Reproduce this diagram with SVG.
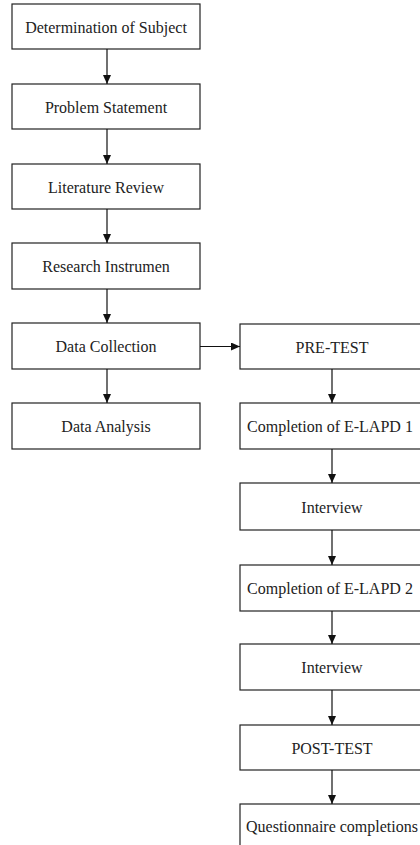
<svg xmlns="http://www.w3.org/2000/svg" width="420" height="845" viewBox="0 0 420 845">
<style>
.box{fill:#fff;stroke:#222;stroke-width:1.2}
.lbl{font-family:"Liberation Serif","Times New Roman",serif;font-size:16px;fill:#222;text-anchor:middle;dominant-baseline:central}
.con{stroke:#111;stroke-width:1.2;fill:none;marker-end:url(#ah)}
</style>
<defs>
<marker id="ah" markerWidth="10" markerHeight="10" refX="9" refY="4" orient="auto" markerUnits="userSpaceOnUse">
<path d="M0,0 L9,4 L0,8 Z" fill="#111"/>
</marker>
</defs>
<rect width="420" height="845" fill="#fff"/>
<g id="n1"><rect class="box" x="12" y="4" width="188" height="45"/><text class="lbl" x="106" y="27">Determination of Subject</text></g>
<g id="n2"><rect class="box" x="12" y="84" width="188" height="45"/><text class="lbl" x="106" y="107">Problem Statement</text></g>
<g id="n3"><rect class="box" x="12" y="164" width="188" height="45"/><text class="lbl" x="106" y="187">Literature Review</text></g>
<g id="n4"><rect class="box" x="12" y="243" width="188" height="46"/><text class="lbl" x="106" y="266">Research Instrumen</text></g>
<g id="n5"><rect class="box" x="12" y="323" width="188" height="46"/><text class="lbl" x="106" y="346">Data Collection</text></g>
<g id="n6"><rect class="box" x="12" y="403" width="188" height="46"/><text class="lbl" x="106" y="426">Data Analysis</text></g>
<g id="r1"><rect class="box" x="240" y="324" width="186" height="45"/><text class="lbl" x="332" y="347">PRE-TEST</text></g>
<g id="r2"><rect class="box" x="240" y="403" width="186" height="46"/><text class="lbl" x="330" y="426">Completion of E-LAPD 1</text></g>
<g id="r3"><rect class="box" x="240" y="483" width="186" height="47"/><text class="lbl" x="332" y="507">Interview</text></g>
<g id="r4"><rect class="box" x="240" y="565" width="186" height="46"/><text class="lbl" x="330" y="588">Completion of E-LAPD 2</text></g>
<g id="r5"><rect class="box" x="240" y="644" width="186" height="46"/><text class="lbl" x="332" y="667">Interview</text></g>
<g id="r6"><rect class="box" x="240" y="725" width="186" height="45"/><text class="lbl" x="332" y="748">POST-TEST</text></g>
<g id="r7"><rect class="box" x="240" y="804" width="186" height="60"/><text class="lbl" x="332" y="826">Questionnaire completions</text></g>
<g id="connectors">
<line class="con" x1="107" y1="49" x2="107" y2="84"/>
<line class="con" x1="107" y1="129" x2="107" y2="164"/>
<line class="con" x1="107" y1="209" x2="107" y2="243"/>
<line class="con" x1="107" y1="289" x2="107" y2="323"/>
<line class="con" x1="107" y1="369" x2="107" y2="403"/>
<line class="con" x1="200" y1="346.5" x2="240" y2="346.5"/>
<line class="con" x1="332" y1="369" x2="332" y2="403"/>
<line class="con" x1="332" y1="449" x2="332" y2="483"/>
<line class="con" x1="332" y1="530" x2="332" y2="565"/>
<line class="con" x1="332" y1="611" x2="332" y2="644"/>
<line class="con" x1="332" y1="690" x2="332" y2="725"/>
<line class="con" x1="332" y1="770" x2="332" y2="804"/>
</g>
</svg>
